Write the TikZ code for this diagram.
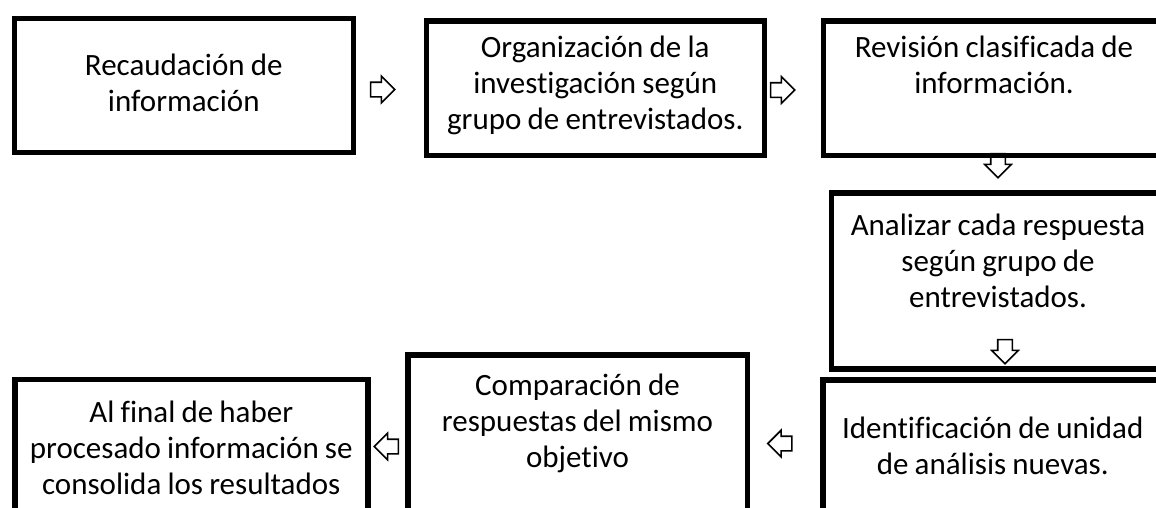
\documentclass[tikz,border=0pt]{standalone}
\usepackage{fontspec}
\setmainfont{Carlito}[Ligatures=CommonOff]
\usetikzlibrary{shapes.arrows}

\tikzset{
  caja/.style={draw, line width=5.5pt, anchor=north west, inner sep=0pt,
    align=center, font=\fontsize{31pt}{36pt}\selectfont,
    execute at begin node={\spaceskip=0.2em\relax}},
  flecha/.style={single arrow, draw, line width=1.6pt, fill=white, inner sep=0pt,
    text height=6.5pt, text depth=6.5pt, minimum height=24pt, single arrow head extend=6pt}
}

\begin{document}
\begin{tikzpicture}[x=1pt,y=-1pt]
            \useasboundingbox (0,0) rectangle (1156,507);
            \clip (0,0) rectangle (1156,507);
            \foreach \x/\y/\r/\n in {379/89.5/0/f1, 779/90/0/f2, 998/162/-90/f3,
                1005/348/-90/f4, 783.5/443.5/180/f5, 390/446.5/180/f6}{
                \node[flecha, rotate=\r] (\n) at (\x,\y) {};
            }
            \node[caja, minimum width=339pt, text width=325pt, text height=57pt, text depth=77pt]
                (rec) at (11.5,15.5) {Recaudación de\\información};
            \node[caja, minimum width=338pt, text width=325pt, text height=37pt, text depth=97.5pt]
                (org) at (423.5,18) {Organización de la\\investigación según\\grupo de entrevistados.};
            \node[caja, minimum width=341.5pt, text width=330pt, text height=37pt, text depth=97.5pt]
                (rev) at (820.5,18) {Revisión clasificada de\\información.};
            \node[caja, minimum width=333.5pt, text width=322pt, text height=43pt, text depth=133pt]
                (ana) at (828.5,190) {Analizar cada respuesta\\según grupo de\\entrevistados.};
            \node[caja, minimum width=340pt, text width=328pt, text height=59pt, text depth=104pt]
                (ide) at (820,377) {Identificación de unidad\\de análisis nuevas.};
            \node[caja, minimum width=339.5pt, text width=326pt, text height=41pt, text depth=147pt]
                (com) at (405,352) {Comparación de\\respuestas del mismo\\objetivo};
            \node[caja, minimum width=353pt, text width=340pt, text height=43.5pt, text depth=120pt]
                (fin) at (12,376.5) {Al final de haber\\procesado información se\\consolida los resultados};
        \end{tikzpicture}
\end{document}
